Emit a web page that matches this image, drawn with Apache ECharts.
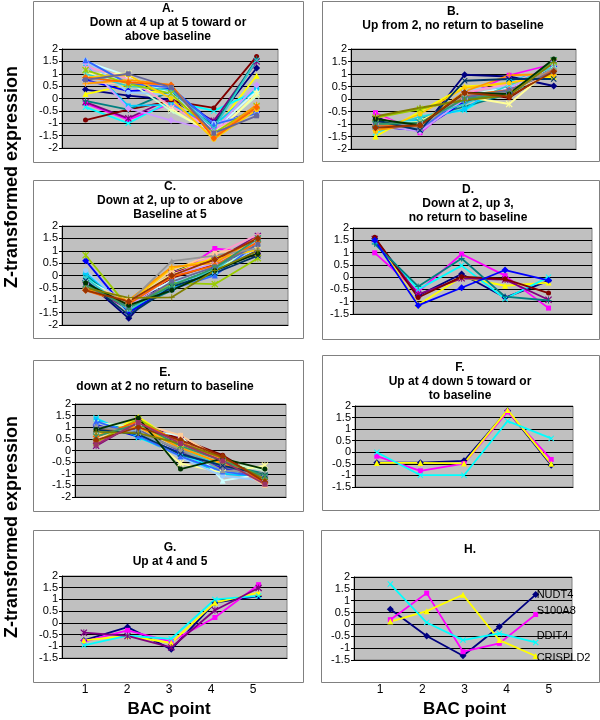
<!DOCTYPE html>
<html>
<head>
<meta charset="utf-8">
<title>BAC point expression clusters</title>
<script src="https://cdn.jsdelivr.net/npm/echarts@6/dist/echarts.min.js"></script>
<style>
  html, body { margin: 0; padding: 0; background: #fff; }
  #chart { width: 600px; height: 720px; }
</style>
</head>
<body>
<div id="chart"></div>
<script>
// BAC sampling points
const bacPoints = [1, 2, 3, 4, 5];
const bacLabels = ['1', '2', '3', '4', '5'];

const panelTitles = [
  'A.\nDown at 4 up at 5 toward or\nabove baseline',
  'B.\nUp from 2, no return to baseline',
  'C.\nDown at 2, up to or above\nBaseline at 5',
  'D.\nDown at 2, up 3,\nno return to baseline',
  'E.\ndown at 2 no return to baseline',
  'F.\nUp at 4 down 5 toward or\nto baseline',
  'G.\nUp at 4 and 5',
  'H.'
];

// Z-transformed expression per gene (one row = one gene, values at BAC 1..5)
const panelA = [
  [0.36, 0.12, -0.05, -1.0, 1.23],
  [-0.2, -0.85, -0.2, -1.2, -0.5],
  [0.18, 0.55, 0.1, -1.3, 0.92],
  [-0.35, -1.0, -0.1, -0.5, 0.3],
  [-0.15, -0.8, 0.0, -0.9, 1.5],
  [-0.87, -0.45, -0.1, -0.38, 1.7],
  [-0.1, -0.45, 0.3, -1.1, 1.6],
  [0.75, 0.3, 0.4, -1.0, -0.55],
  [1.4, -0.3, -0.25, -1.1, 0.4],
  [1.5, 0.9, 0.2, -1.3, 0.3],
  [1.0, 0.7, -0.5, -1.4, 0.1],
  [1.0, 1.0, -0.4, -1.5, 0.2],
  [1.55, 0.25, 0.15, -1.0, -0.6],
  [1.3, 0.8, -0.3, -1.25, -0.4],
  [1.45, -0.4, -0.88, -1.3, 0.55],
  [0.65, 0.6, 0.5, -1.45, -0.3],
  [1.55, 0.6, 0.45, -1.05, -0.6],
  [1.0, 0.5, 0.35, -1.2, 1.55],
  [1.15, 0.6, 0.2, -1.4, -0.3],
  [0.85, 0.95, 0.0, -1.65, -0.45],
  [0.6, 0.75, 0.55, -1.55, -0.25],
  [0.85, 0.65, 0.55, -1.6, -0.35],
  [0.75, 1.0, 0.45, -1.4, -0.7]
];

const panelB = [
  [-0.7, -1.3, 0.97, 0.9, 0.52],
  [-0.55, -1.35, 0.1, 0.95, 1.4],
  [-1.5, -0.5, 0.5, 0.6, 0.9],
  [-1.35, -0.7, -0.45, 0.6, 1.15],
  [-0.95, -1.2, 0.2, 0.35, 1.45],
  [-0.8, -1.1, 0.3, 0.05, 1.2],
  [-1.2, -0.8, -0.3, 0.2, 1.2],
  [-1.1, -1.25, -0.1, 0.25, 1.3],
  [-1.0, -0.85, -0.4, 0.7, 1.25],
  [-0.9, -0.95, 0.15, 0.45, 1.1],
  [-1.05, -1.0, 0.05, 0.3, 1.35],
  [-1.15, -0.9, 0.1, -0.2, 1.3],
  [-0.85, -1.15, 0.35, 0.5, 1.0],
  [-0.65, -1.25, 0.25, 0.6, 1.35],
  [-1.0, -1.3, 0.0, 0.4, 1.5],
  [-1.2, -1.0, 0.2, 0.3, 1.05],
  [-0.9, -1.2, 0.1, 0.3, 1.2],
  [-1.1, -0.75, -0.2, 0.55, 1.3],
  [-0.75, -0.4, 0.0, 0.25, 1.5],
  [-1.3, -0.6, 0.45, 0.65, 0.95],
  [-1.25, -1.0, 0.3, 0.95, 1.0],
  [-1.05, -1.1, 0.15, 0.35, 1.15],
  [-0.95, -1.0, 0.05, 0.35, 1.1],
  [-1.1, -1.15, 0.2, 0.25, 1.25],
  [-0.85, -1.25, 0.73, 0.8, 0.8],
  [-1.0, -0.95, 0.0, 0.2, 1.55],
  [-0.8, -1.05, 0.25, 0.2, 1.6],
  [-0.7, -0.35, -0.05, 0.15, 1.45],
  [-1.15, -1.05, 0.25, 0.1, 1.1]
];

const panelC = [
  [-0.2, -1.73, 0.15, 0.7, 0.8],
  [-0.3, -1.2, -0.1, 1.09, 0.95],
  [-0.35, -1.25, 0.1, 0.75, 1.25],
  [0.0, -1.45, -0.5, 0.15, 1.3],
  [-0.4, -1.35, 0.1, 0.6, 1.6],
  [-0.55, -1.2, -0.1, 0.45, 0.85],
  [0.05, -1.4, -0.6, 0.35, 1.45],
  [0.6, -1.5, -0.4, 0.3, 1.0],
  [0.1, -1.3, -0.45, 0.05, 1.35],
  [-0.15, -1.1, -0.2, 0.25, 1.1],
  [-0.25, -1.2, -0.35, 0.2, 1.2],
  [-0.45, -1.05, 0.05, 0.55, 1.3],
  [0.2, -1.35, -0.3, 0.1, 1.15],
  [-0.45, -1.15, -0.05, 0.85, 1.65],
  [-0.35, -1.25, 0.0, 0.5, 1.4],
  [-0.3, -1.0, 0.2, 0.9, 1.2],
  [-0.25, -1.25, -0.55, 0.0, 1.3],
  [-0.1, -1.4, -0.35, 0.2, 1.5],
  [0.82, -1.3, -0.3, -0.35, 0.7],
  [-0.5, -1.1, 0.3, 0.65, 1.05],
  [-0.55, -1.0, 0.35, 0.5, 1.55],
  [-0.6, -1.15, -0.05, 0.4, 1.35],
  [-0.4, -1.3, -0.25, 0.35, 1.25],
  [-0.4, -1.1, 0.58, 0.8, 1.1],
  [-0.2, -1.6, -0.45, 0.1, 0.8],
  [-0.35, -1.3, -0.4, 0.3, 1.5],
  [-0.3, -1.2, -0.6, 0.2, 0.9],
  [-0.5, -0.9, -0.88, 0.2, 1.0],
  [-0.6, -1.05, 0.0, 0.65, 1.5]
];

const panelD = [
  [1.57, -0.75, 0.13, -0.83, -0.15],
  [0.99, -0.6, 0.94, 0.06, -1.26],
  [1.6, -1.12, 0.0, -0.35, -0.22],
  [1.45, -0.5, 0.47, -0.88, 0.0],
  [1.55, -0.7, -0.05, -0.1, -0.92],
  [1.62, -0.83, 0.02, -0.08, -0.65],
  [1.35, -0.38, 0.76, -0.79, -0.95],
  [1.5, -1.15, -0.43, 0.29, -0.13]
];

const panelE = [
  [1.0, 0.8, 0.0, -0.8, -1.05],
  [0.3, 1.3, 0.4, -0.5, -1.35],
  [0.45, 1.45, 0.25, -0.7, -1.15],
  [1.4, 0.55, -0.15, -0.85, -1.2],
  [0.2, 1.25, 0.45, -0.6, -1.4],
  [0.4, 1.1, 0.5, -0.2, -1.3],
  [1.3, 0.7, -0.2, -0.6, -1.0],
  [1.1, 0.6, -0.1, -0.75, -1.1],
  [1.35, 0.6, -0.25, -1.0, -1.15],
  [0.7, 0.9, 0.65, -1.3, -1.0],
  [1.2, 1.0, 0.1, -0.5, -0.85],
  [0.6, 0.95, -0.55, -0.95, -0.65],
  [1.0, 0.85, -0.3, -1.1, -1.3],
  [0.55, 1.15, 0.35, -0.4, -1.3],
  [0.75, 1.05, 0.2, -0.55, -1.2],
  [0.5, 1.2, 0.65, -0.4, -1.5],
  [1.25, 0.65, -0.25, -0.9, -1.15],
  [0.85, 0.75, 0.05, -0.65, -1.1],
  [0.35, 1.35, 0.3, -0.45, -1.25],
  [0.65, 1.1, 0.15, -0.6, -1.2],
  [0.85, 1.0, 0.1, -0.55, -1.2],
  [0.6, 1.25, 0.35, -0.35, -1.4],
  [0.95, 0.9, -0.05, -0.7, -1.1],
  [1.05, 0.75, 0.05, -0.85, -1.0],
  [0.9, 0.7, -0.15, -0.65, -1.05],
  [0.6, 1.15, 0.2, -0.45, -1.1],
  [0.9, 1.4, -0.8, -0.35, -0.8],
  [0.8, 0.75, 0.3, -0.3, -1.25],
  [0.45, 1.0, 0.45, -0.25, -1.35],
  [0.25, 1.2, 0.3, -0.45, -1.45]
];

const panelF = [
  [-0.45, -0.45, -0.37, 1.8, -0.56],
  [-0.17, -0.8, -0.49, 1.75, -0.31],
  [-0.46, -0.46, -0.48, 1.83, -0.5],
  [0.0, -0.99, -0.99, 1.35, 0.6]
];

const panelG = [
  [-0.75, -0.18, -1.13, 0.86, 1.14],
  [-0.8, -0.32, -0.8, 0.23, 1.63],
  [-0.75, -0.55, -0.86, 0.86, 1.29],
  [-0.96, -0.55, -0.68, 1.0, 1.15],
  [-0.42, -0.56, -1.05, 0.54, 1.49]
];

const geneNamesH = ['NUDT4', 'S100A8', 'CRISPLD2', 'DDIT4'];
const panelH = [
  [0.64, -0.49, -1.32, -0.1, 1.26],
  [0.2, 1.32, -1.15, -0.8, 0.42],
  [0.12, 0.56, 1.25, -0.66, -1.33],
  [1.7, 0.08, -0.66, -0.38, -0.76]
];

const panels = [panelA, panelB, panelC, panelD, panelE, panelF, panelG, panelH];

// Excel-like default series colours and markers
const excelColors = ['#000080', '#FF00FF', '#FFFF00', '#00FFFF', '#800080', '#800000', '#008080', '#0000FF',
  '#00CCFF', '#CCFFFF', '#CCFFCC', '#FFFF99', '#99CCFF', '#FF99CC', '#CC99FF', '#FFCC99',
  '#3366FF', '#33CCCC', '#99CC00', '#FFCC00', '#FF9900', '#FF6600', '#666699', '#969696',
  '#003366', '#339966', '#003300', '#808000', '#993300', '#993366', '#333399', '#333333'];
const X_MARK = 'path://M0,1.2L1.2,0L5,3.8L8.8,0L10,1.2L6.2,5L10,8.8L8.8,10L5,6.2L1.2,10L0,8.8L3.8,5Z';
const STAR_MARK = 'path://M0,1.2L1.2,0L5,3.8L8.8,0L10,1.2L6.2,5L10,8.8L8.8,10L5,6.2L1.2,10L0,8.8L3.8,5Z M4.4,0H5.6V10H4.4Z';
const PLUS_MARK = 'path://M4.2,0H5.8V4.2H10V5.8H5.8V10H4.2V5.8H0V4.2H4.2Z';
const markers = [
  ['diamond', 7], ['rect', 5], ['triangle', 6], [X_MARK, 6], [STAR_MARK, 7], ['circle', 5], [PLUS_MARK, 6]
];

const FONT = "'Liberation Sans', Arial, sans-serif";

// panel layout: outer box, plot area, x range, y min, title anchor
const layout = [
  { box: [33, 1, 270, 161], grid: [62, 49, 216, 99], xr: [0.45, 5.5], ymin: -2, t: [168, 2] },
  { box: [322, 1, 277, 160], grid: [351, 49, 225, 100], xr: [0.45, 5.5], ymin: -2, t: [453, 5] },
  { box: [33, 180, 270, 158], grid: [62, 226, 226, 99], xr: [0.45, 5.7], ymin: -2, t: [170, 180] },
  { box: [322, 180, 277, 159], grid: [353, 228, 239, 86], xr: [0.5, 6.0], ymin: -1.5, t: [468, 183] },
  { box: [33, 360, 270, 151], grid: [75, 404, 211, 93], xr: [0.5, 5.5], ymin: -2, t: [165, 366] },
  { box: [322, 355, 277, 155], grid: [355, 406, 218, 81], xr: [0.5, 5.5], ymin: -1.5, t: [460, 361] },
  { box: [33, 530, 270, 152], grid: [62, 576, 225, 82], xr: [0.5, 5.65], ymin: -1.5, t: [170, 541] },
  { box: [321, 530, 278, 152], grid: [354, 577, 218, 83], xr: [0, 6], ymin: -1.5, t: [470, 543] }
];

const labelOffsetsH = [[0, 0], [0, -3], [0, 2], [0, -6]];

const chart = echarts.init(document.getElementById('chart'));

const option = {
  animation: false,
  title: [],
  grid: [],
  xAxis: [],
  yAxis: [],
  series: [],
  graphic: []
};

layout.forEach((p, i) => {
  option.grid.push({
    left: p.grid[0], top: p.grid[1], width: p.grid[2], height: p.grid[3],
    show: true, backgroundColor: '#C0C0C0', borderColor: '#808080', borderWidth: 1
  });
  option.xAxis.push({
    type: 'value', gridIndex: i, min: p.xr[0], max: p.xr[1],
    axisLine: { onZero: false, lineStyle: { color: '#000', width: 1 } },
    axisTick: { show: false }, axisLabel: { show: false }, splitLine: { show: false }
  });
  option.yAxis.push({
    type: 'value', gridIndex: i, min: p.ymin, max: 2, interval: 0.5,
    axisLine: { show: true, onZero: false, lineStyle: { color: '#000', width: 1 } },
    axisTick: { show: true, length: 3, lineStyle: { color: '#000' } },
    axisLabel: { color: '#000', fontSize: 11, fontFamily: FONT, margin: 4 },
    splitLine: { show: true, lineStyle: { color: '#000', width: 1 } }
  });
  option.title.push({
    text: panelTitles[i], left: p.t[0], top: p.t[1], textAlign: 'center', padding: 0,
    textStyle: { fontSize: 12, fontWeight: 'bold', fontFamily: FONT, color: '#000', lineHeight: 14 }
  });
  option.graphic.push({
    type: 'rect', shape: { x: p.box[0] + 0.5, y: p.box[1] + 0.5, width: p.box[2], height: p.box[3] },
    style: { fill: 'none', stroke: '#808080', lineWidth: 1 }, silent: true
  });

  panels[i].forEach((row, k) => {
    const color = excelColors[k % excelColors.length];
    const mk = markers[k % markers.length];
    const s = {
      type: 'line', xAxisIndex: i, yAxisIndex: i,
      name: i === 7 ? geneNamesH[k] : 'p' + i + '_' + k,
      data: bacPoints.map((x, j) => [x, row[j]]),
      symbol: mk[0], symbolSize: mk[1], showSymbol: true,
      lineStyle: { color: color, width: 1.8 },
      itemStyle: { color: color, borderWidth: 0 },
      emphasis: { disabled: true }, silent: true
    };
    if (i === 7) {
      s.endLabel = {
        show: true, formatter: '{a}', distance: 1, offset: labelOffsetsH[k],
        color: '#000', fontSize: 11, fontFamily: FONT
      };
    }
    option.series.push(s);
  });
});

// category labels and axis title below G and H
[[64, 210], [359, 211]].forEach((g, j) => {
  const gi = 8 + j;
  option.grid.push({ left: g[0], top: 679, width: g[1], height: 1 });
  option.xAxis.push({
    type: 'category', gridIndex: gi, data: bacLabels, boundaryGap: true,
    axisLine: { show: false }, axisTick: { show: false },
    axisLabel: { color: '#000', fontSize: 12, fontFamily: FONT, margin: 4 },
    name: 'BAC point', nameLocation: 'middle', nameGap: 21,
    nameTextStyle: { color: '#000', fontSize: 17, fontWeight: 'bold', fontFamily: FONT }
  });
  option.yAxis.push({ type: 'value', gridIndex: gi, show: false });
});

// shared y axis titles
[177, 527].forEach(cy => {
  option.graphic.push({
    type: 'text', x: 12, y: cy, rotation: Math.PI / 2,
    style: {
      text: 'Z-transformed expression', textAlign: 'center', textVerticalAlign: 'middle',
      font: 'bold 18px ' + FONT, fill: '#000'
    },
    silent: true
  });
});

chart.setOption(option);
</script>
</body>
</html>
